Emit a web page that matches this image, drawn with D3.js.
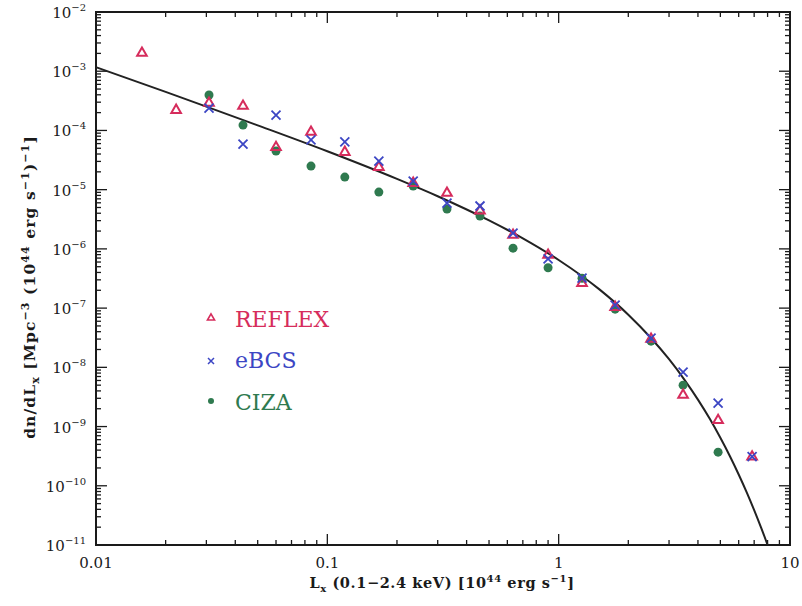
<!DOCTYPE html>
<html>
<head>
<meta charset="utf-8">
<script src="https://cdn.jsdelivr.net/npm/d3@7"></script>
<style>
  html, body { margin: 0; padding: 0; background: #fff; }
  svg { display: block; }
</style>
</head>
<body>
<svg id="chart" width="802" height="606"></svg>
<script>
// ---- data ----
const lxBins = [0.0158, 0.0222, 0.0308, 0.0432, 0.0600, 0.0850, 0.119, 0.167, 0.235, 0.329,
                0.457, 0.635, 0.900, 1.262, 1.754, 2.508, 3.450, 4.889, 6.858];

const reflexL = [0.0158, 0.0222, 0.0308, 0.0432, 0.0600, 0.0850, 0.119, 0.167, 0.235, 0.329,
                 0.457, 0.635, 0.900, 1.262, 1.754, 2.508, 3.450, 4.889, 6.858];
const reflexN = [2.03e-3, 2.2e-4, 2.9e-4, 2.58e-4, 5.2e-5, 9.4e-5, 4.3e-5, 2.4e-5, 1.29e-5, 8.8e-6,
                 4.4e-6, 1.71e-6, 7.9e-7, 2.64e-7, 1.04e-7, 3.0e-8, 3.4e-9, 1.28e-9, 3.1e-10];

const ebcsL = [0.0308, 0.0432, 0.0600, 0.0850, 0.119, 0.167, 0.235, 0.329,
               0.457, 0.635, 0.900, 1.262, 1.754, 2.508, 3.450, 4.889, 6.858];
const ebcsN = [2.39e-4, 5.9e-5, 1.82e-4, 6.9e-5, 6.4e-5, 3.04e-5, 1.40e-5, 5.9e-6,
               5.3e-6, 1.85e-6, 6.8e-7, 3.2e-7, 1.12e-7, 3.1e-8, 8.3e-9, 2.48e-9, 3.1e-10];

const cizaL = [0.0308, 0.0432, 0.0600, 0.0850, 0.119, 0.167, 0.235, 0.329,
               0.457, 0.635, 0.900, 1.262, 1.754, 2.508, 3.450, 4.889];
const cizaN = [3.96e-4, 1.23e-4, 4.5e-5, 2.5e-5, 1.63e-5, 9.1e-6, 1.15e-5, 4.7e-6,
               3.58e-6, 1.03e-6, 4.8e-7, 3.2e-7, 9.6e-8, 2.77e-8, 5.0e-9, 3.7e-10];

// fitted curve, sampled from the reference line
const fitL = [0.01, 0.02, 0.03, 0.05, 0.1, 0.2, 0.3, 0.5, 0.7, 1, 1.5, 2, 2.5, 3, 3.5, 4, 4.5,
              5, 5.5, 6, 6.5, 7, 7.5, 8, 8.3];
const fitN = [1.17e-3, 4.48e-4, 2.53e-4, 1.22e-4, 4.45e-5, 1.52e-5, 7.75e-6, 3.03e-6, 1.51e-6,
              6.50e-7, 2.07e-7, 7.74e-8, 3.16e-8, 1.37e-8, 6.15e-9, 2.85e-9, 1.35e-9,
              6.46e-10, 3.15e-10, 1.55e-10, 7.74e-11, 3.88e-11, 1.96e-11, 1.0e-11, 6.7e-12];

const xTickValues = [0.01, 0.1, 1, 10];
const xTickLabels = ["0.01", "0.1", "1", "10"];
const yTickExponents = [-2, -3, -4, -5, -6, -7, -8, -9, -10, -11];

const seriesNames = ["REFLEX", "eBCS", "CIZA"];
const seriesColors = ["#d62c5c", "#3c46c4", "#2f7a4f"];

// ---- layout ----
const svg = d3.select("#chart");
const mLeft = 96, mRight = 790, mTop = 12, mBottom = 545;

const x = d3.scaleLog().domain([0.01, 10]).range([mLeft, mRight]);
const y = d3.scaleLog().domain([1e-11, 1e-2]).range([mBottom, mTop]);

const serif = "'DejaVu Serif', serif";
const axisColor = "#1a1a1a";

svg.append("defs").append("clipPath").attr("id", "clip")
  .append("rect").attr("x", mLeft).attr("y", mTop).attr("width", mRight - mLeft).attr("height", mBottom - mTop);

// ---- ticks ----
function logTicks(lo, hi) {
  const major = [], minor = [];
  const e0 = Math.round(Math.log10(lo)), e1 = Math.round(Math.log10(hi));
  for (let e = e0; e <= e1; e++) {
    major.push(Math.pow(10, e));
    if (e < e1) {
      for (let k = 2; k <= 9; k++) minor.push(k * Math.pow(10, e));
    }
  }
  return { major, minor };
}
const xt = logTicks(0.01, 10);
const yt = logTicks(1e-11, 1e-2);
const majLen = 11, minLen = 5;

const tickG = svg.append("g").attr("stroke", axisColor).attr("stroke-width", 1.3);
xt.major.forEach(v => {
  tickG.append("line").attr("x1", x(v)).attr("x2", x(v)).attr("y1", mBottom).attr("y2", mBottom - majLen);
  tickG.append("line").attr("x1", x(v)).attr("x2", x(v)).attr("y1", mTop).attr("y2", mTop + majLen);
});
xt.minor.forEach(v => {
  tickG.append("line").attr("x1", x(v)).attr("x2", x(v)).attr("y1", mBottom).attr("y2", mBottom - minLen);
  tickG.append("line").attr("x1", x(v)).attr("x2", x(v)).attr("y1", mTop).attr("y2", mTop + minLen);
});
yt.major.forEach(v => {
  tickG.append("line").attr("y1", y(v)).attr("y2", y(v)).attr("x1", mLeft).attr("x2", mLeft + majLen);
  tickG.append("line").attr("y1", y(v)).attr("y2", y(v)).attr("x1", mRight).attr("x2", mRight - majLen);
});
yt.minor.forEach(v => {
  tickG.append("line").attr("y1", y(v)).attr("y2", y(v)).attr("x1", mLeft).attr("x2", mLeft + minLen);
  tickG.append("line").attr("y1", y(v)).attr("y2", y(v)).attr("x1", mRight).attr("x2", mRight - minLen);
});

svg.append("rect").attr("x", mLeft).attr("y", mTop).attr("width", mRight - mLeft).attr("height", mBottom - mTop)
  .attr("fill", "none").attr("stroke", axisColor).attr("stroke-width", 2);

// x tick labels
svg.append("g").selectAll("text").data(xTickValues).join("text")
  .attr("x", d => x(d)).attr("y", 568)
  .attr("text-anchor", "middle")
  .attr("font-family", serif).attr("font-size", 15).attr("fill", axisColor)
  .text((d, i) => xTickLabels[i]);

// y tick labels
const yl = svg.append("g").selectAll("text").data(yTickExponents).join("text")
  .attr("x", 86).attr("y", d => y(Math.pow(10, d)) + 6)
  .attr("text-anchor", "end")
  .attr("font-family", serif).attr("font-size", 15).attr("fill", axisColor);
yl.append("tspan").text("10");
yl.append("tspan").attr("dy", -7).attr("font-size", 10).text(d => "\u2212" + Math.abs(d));

// axis titles
const xTitle = svg.append("text").attr("x", 442).attr("y", 588).attr("text-anchor", "middle")
  .attr("font-family", serif).attr("font-weight", "bold").attr("font-size", 14.5)
  .attr("letter-spacing", 0.6).attr("fill", axisColor);
xTitle.append("tspan").text("L");
xTitle.append("tspan").attr("dy", 4).attr("font-size", 10).text("x");
xTitle.append("tspan").attr("dy", -4).text(" (0.1\u22122.4 keV) [10");
xTitle.append("tspan").attr("dy", -6).attr("font-size", 10).text("44");
xTitle.append("tspan").attr("dy", 6).text(" erg s");
xTitle.append("tspan").attr("dy", -6).attr("font-size", 10).text("\u22121");
xTitle.append("tspan").attr("dy", 6).text("]");

const yTitle = svg.append("text").attr("transform", "translate(35,287) rotate(-90)")
  .attr("text-anchor", "middle")
  .attr("font-family", serif).attr("font-weight", "bold").attr("font-size", 15.5)
  .attr("letter-spacing", 1.1).attr("fill", axisColor);
yTitle.append("tspan").text("dn/dL");
yTitle.append("tspan").attr("dy", 4).attr("font-size", 11).text("x");
yTitle.append("tspan").attr("dy", -4).text(" [Mpc");
yTitle.append("tspan").attr("dy", -6).attr("font-size", 11).text("\u22123");
yTitle.append("tspan").attr("dy", 6).text(" (10");
yTitle.append("tspan").attr("dy", -6).attr("font-size", 11).text("44");
yTitle.append("tspan").attr("dy", 6).text(" erg s");
yTitle.append("tspan").attr("dy", -6).attr("font-size", 11).text("\u22121");
yTitle.append("tspan").attr("dy", 6).text(")");
yTitle.append("tspan").attr("dy", -6).attr("font-size", 11).text("\u22121");
yTitle.append("tspan").attr("dy", 6).text("]");

// ---- plot content ----
const plot = svg.append("g").attr("clip-path", "url(#clip)");

const fitData = fitL.map((l, i) => [l, fitN[i]]);
plot.append("path").datum(fitData)
  .attr("d", d3.line().x(d => x(d[0])).y(d => y(d[1])).curve(d3.curveMonotoneX))
  .attr("fill", "none").attr("stroke", "#222").attr("stroke-width", 2);

const tri = d3.symbol().type(d3.symbolTriangle).size(40);

plot.append("g").selectAll("circle").data(cizaL.map((l, i) => [l, cizaN[i]])).join("circle")
  .attr("cx", d => x(d[0])).attr("cy", d => y(d[1])).attr("r", 4.5)
  .attr("fill", seriesColors[2]);

plot.append("g").selectAll("path").data(reflexL.map((l, i) => [l, reflexN[i]])).join("path")
  .attr("transform", d => `translate(${x(d[0])},${y(d[1])})`)
  .attr("d", tri).attr("fill", "none").attr("stroke", seriesColors[0]).attr("stroke-width", 2);

// eBCS crosses (drawn as two strokes)
const crossHalf = 4.5;
plot.append("g").attr("stroke", seriesColors[1]).attr("stroke-width", 1.8)
  .selectAll("path").data(ebcsL.map((l, i) => [l, ebcsN[i]])).join("path")
  .attr("d", d => {
    const cx = x(d[0]), cy = y(d[1]), h = crossHalf;
    return `M${cx - h},${cy - h}L${cx + h},${cy + h}M${cx - h},${cy + h}L${cx + h},${cy - h}`;
  })
  .attr("fill", "none");

// ---- legend ----
const legY = [318, 361, 401];
const legText = [327, 368, 410];
const leg = svg.append("g");
leg.append("path").attr("transform", `translate(211,${legY[0]})`)
  .attr("d", d3.symbol().type(d3.symbolTriangle).size(22)).attr("fill", "none")
  .attr("stroke", seriesColors[0]).attr("stroke-width", 1.6);
leg.append("path")
  .attr("d", `M208,${legY[1] - 3}L214,${legY[1] + 3}M208,${legY[1] + 3}L214,${legY[1] - 3}`)
  .attr("stroke", seriesColors[1]).attr("stroke-width", 1.5).attr("fill", "none");
leg.append("circle").attr("cx", 211).attr("cy", legY[2]).attr("r", 3).attr("fill", seriesColors[2]);
leg.selectAll("text").data(seriesNames).join("text")
  .attr("x", 235).attr("y", (d, i) => legText[i])
  .attr("font-family", serif).attr("font-size", 22)
  .attr("fill", (d, i) => seriesColors[i])
  .text(d => d);
</script>
</body>
</html>
